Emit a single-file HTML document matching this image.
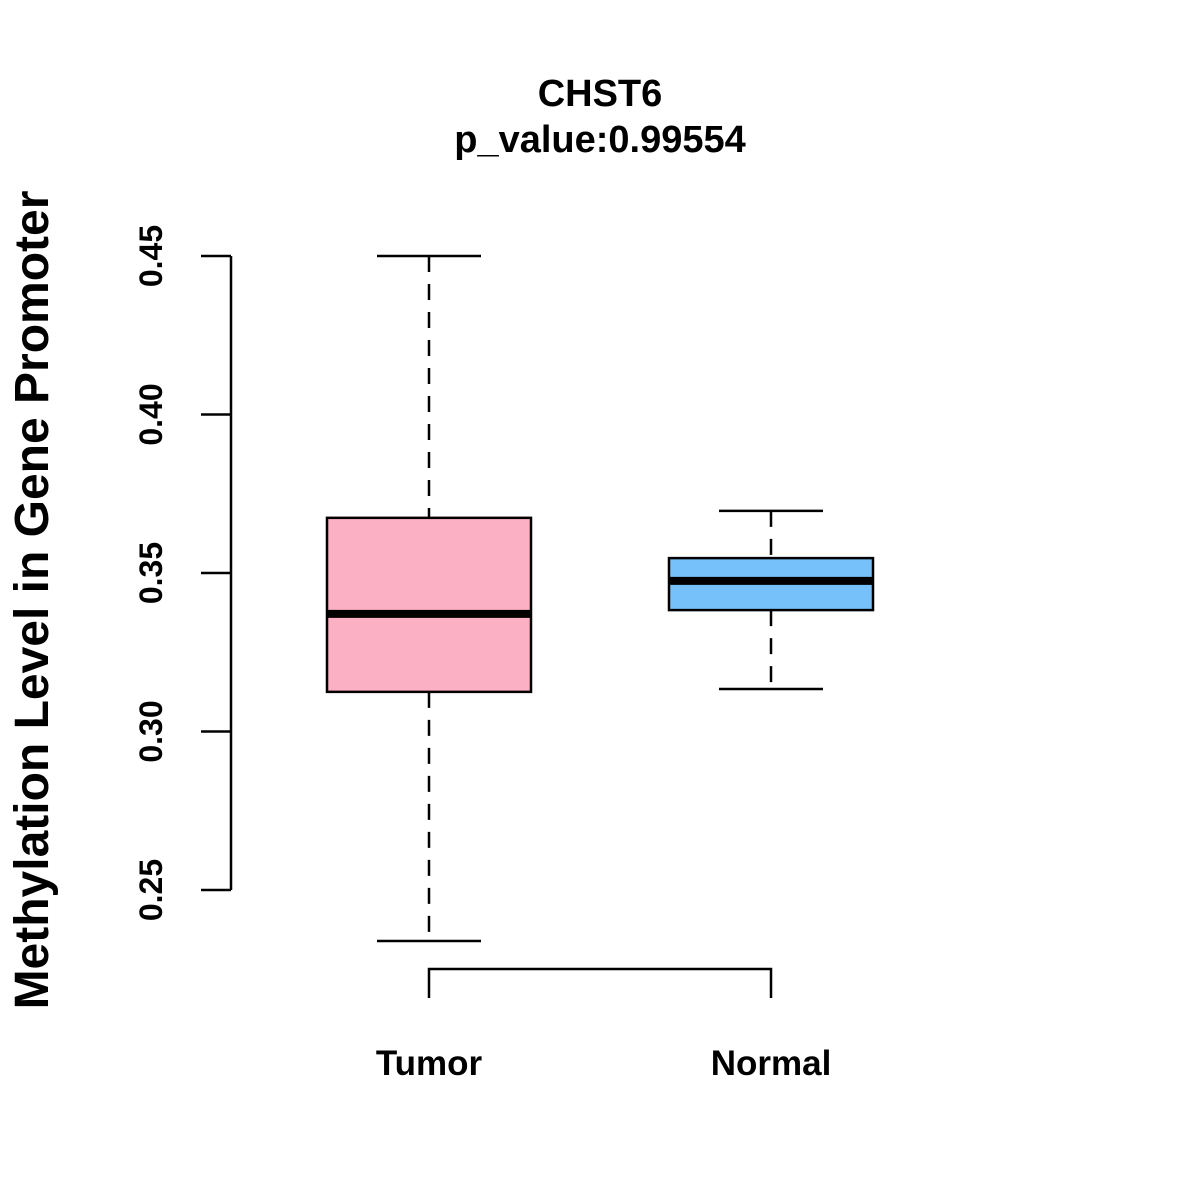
<!DOCTYPE html>
<html><head><meta charset="utf-8"><style>
html,body{margin:0;padding:0;background:#fff;}
svg{display:block;font-family:"Liberation Sans",Arial,sans-serif;font-weight:bold;}
</style></head><body>
<svg id="chart" width="1200" height="1200" viewBox="0 0 1200 1200">
<text x="600" y="106" text-anchor="middle" font-size="38">CHST6</text>
<text x="600" y="152" text-anchor="middle" font-size="38">p_value:0.99554</text>
<text transform="translate(48,600) rotate(-90)" text-anchor="middle" font-size="48">Methylation Level in Gene Promoter</text>
<g id="plot"></g>
</svg>
<script>
const groups = ["Tumor","Normal"];
const colors = ["#FBB1C3","#77C1FA"];
const whiskerLow = [0.2339, 0.3134];
const q1 = [0.3125, 0.3383];
const medians = [0.3371, 0.3475];
const q3 = [0.3674, 0.3547];
const whiskerHigh = [0.4500, 0.3696];
const yTicks = [0.25, 0.30, 0.35, 0.40, 0.45];
const yTickLabels = ["0.25","0.30","0.35","0.40","0.45"];

const NS = "http://www.w3.org/2000/svg";
const g = document.getElementById("plot");
function y(v){ return 256 + (0.45 - v) * 3170; }
function x(i){ return 429 + i * 342; }
function el(tag, attrs){ const e=document.createElementNS(NS,tag); for(const k in attrs) e.setAttribute(k,attrs[k]); g.appendChild(e); return e; }

let ax = el("line",{x1:231,x2:231,y1:y(yTicks[yTicks.length-1]),y2:y(yTicks[0]),stroke:"#000","stroke-width":2.5});


yTicks.forEach((t,i)=>{
  const tk = el("line",{x1:201,x2:231,y1:y(t),y2:y(t),stroke:"#000","stroke-width":2.5});
  
  
  const lb = el("text",{transform:`translate(162,${y(t)}) rotate(-90)`,"text-anchor":"middle","font-size":32});
  lb.textContent = yTickLabels[i];
  
  
});
const xa = el("path",{d:`M${x(0)},998 V969 H${x(groups.length-1)} V998`,fill:"none",stroke:"#000","stroke-width":2.5});



groups.forEach((name,i)=>{
  const cx = x(i), hw = 102, cw = 52;
  const w1 = el("line",{x1:cx,x2:cx,y1:y(whiskerHigh[i]),y2:y(q3[i]),stroke:"#000","stroke-width":2.5,"stroke-dasharray":"16,12"});
  
  
  const w2 = el("line",{x1:cx,x2:cx,y1:y(q1[i]),y2:y(whiskerLow[i]),stroke:"#000","stroke-width":2.5,"stroke-dasharray":"16,12"});
  
  
  const c1 = el("line",{x1:cx-cw,x2:cx+cw,y1:y(whiskerHigh[i]),y2:y(whiskerHigh[i]),stroke:"#000","stroke-width":2.5});
  
  
  const c2 = el("line",{x1:cx-cw,x2:cx+cw,y1:y(whiskerLow[i]),y2:y(whiskerLow[i]),stroke:"#000","stroke-width":2.5});
  
  
  const b = el("rect",{x:cx-hw,y:y(q3[i]),width:hw*2,height:y(q1[i])-y(q3[i]),fill:colors[i],stroke:"#000","stroke-width":2.5});
  
  
  const m = el("line",{x1:cx-hw,x2:cx+hw,y1:y(medians[i]),y2:y(medians[i]),stroke:"#000","stroke-width":8});
  
  
  const t = el("text",{x:cx,y:1075,"text-anchor":"middle","font-size":35});
  t.textContent = name;
  
  
});
</script>
</body></html>
